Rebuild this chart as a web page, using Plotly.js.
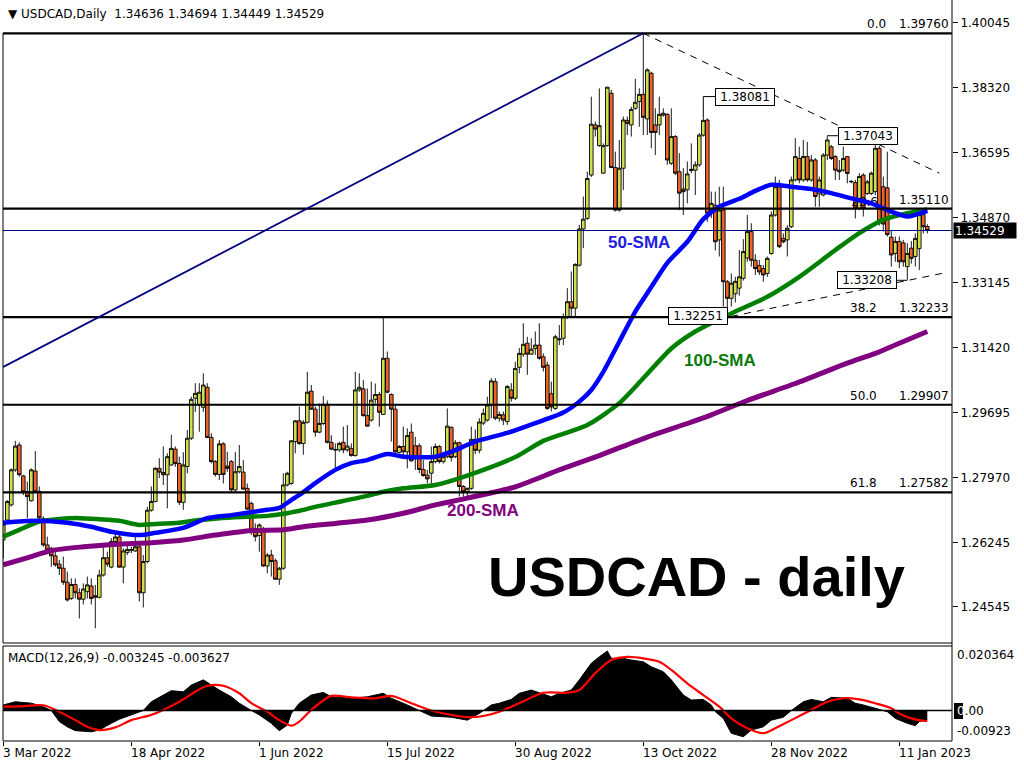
<!DOCTYPE html>
<html><head><meta charset="utf-8">
<script src="https://cdn.plot.ly/plotly-3.0.1.min.js"></script>
<style>html,body{margin:0;padding:0;background:#fff;}#chart{width:1024px;height:768px;}</style>
</head><body><div id="chart"></div>
<script>
// ---------------- DATA ----------------
const tickLabels = ['3 Mar 2022','18 Apr 2022','1 Jun 2022','15 Jul 2022','30 Aug 2022','13 Oct 2022','28 Nov 2022','11 Jan 2023'];
const barsPerTick = 32;
const priceTicks = [1.40045,1.38320,1.36595,1.34870,1.33145,1.31420,1.29695,1.27970,1.26245,1.24545];
const fibRatios = ['0.0','23.6','38.2','50.0','61.8'];
const fibPrices = [1.39760,1.35110,1.32233,1.29907,1.27582];
const lastOHLC = [1.34636,1.34694,1.34449,1.34529];
const macdTitleValues = ['-0.003245','-0.003627'];
const macdTickLabels = ['0.020364','0.00','-0.00923'];

const opens = [1.2632,1.2685,1.2725,1.2818,1.2884,1.2802,1.2760,1.2736,1.2815,1.2761,
1.2689,1.2619,1.2610,1.2590,1.2568,1.2557,1.2520,1.2477,1.2514,1.2492,
1.2475,1.2495,1.2510,1.2480,1.2480,1.2539,1.2585,1.2560,1.2628,1.2640,
1.2560,1.2599,1.2605,1.2603,1.2614,1.2492,1.2575,1.2711,1.2734,1.2822,
1.2811,1.2805,1.2831,1.2873,1.2835,1.2732,1.2827,1.2902,1.3008,1.2990,
1.2984,1.3037,1.2904,1.2840,1.2806,1.2887,1.2828,1.2840,1.2765,1.2813,
1.2812,1.2769,1.2729,1.2652,1.2644,1.2659,1.2563,1.2592,1.2577,1.2528,
1.2557,1.2778,1.2782,1.2893,1.2948,1.2888,1.2944,1.3027,1.2979,1.2918,
1.2941,1.2992,1.2891,1.2872,1.2871,1.2891,1.2871,1.2875,1.2856,1.3030,
1.3033,1.2962,1.2950,1.3005,1.3018,1.2965,1.3114,1.3018,1.2979,1.2864,
1.2880,1.2866,1.2918,1.2882,1.2882,1.2819,1.2804,1.2809,1.2840,1.2880,
1.2840,1.2853,1.2931,1.2853,1.2890,1.2774,1.2760,1.2769,1.2899,1.2870,
1.2942,1.2950,1.2990,1.3052,1.2955,1.2964,1.2946,1.3030,1.3008,1.3090,
1.3125,1.3154,1.3125,1.3140,1.3149,1.3118,1.3096,1.3020,1.2981,1.3163,
1.3167,1.3224,1.3264,1.3247,1.3361,1.3457,1.3485,1.3600,1.3733,1.3678,
1.3605,1.3678,1.3817,1.3620,1.3507,1.3618,1.3745,1.3733,1.3777,1.3795,
1.3814,1.3749,1.3870,1.3733,1.3733,1.3759,1.3761,1.3631,1.3702,1.3609,
1.3563,1.3561,1.3612,1.3613,1.3627,1.3706,1.3746,1.3505,1.3520,1.3428,
1.3507,1.3317,1.3273,1.3285,1.3300,1.3326,1.3380,1.3450,1.3374,1.3360,
1.3352,1.3339,1.3392,1.3494,1.3569,1.3432,1.3428,1.3463,1.3587,1.3644,
1.3587,1.3649,1.3587,1.3640,1.3550,1.3547,1.3653,1.3675,1.3649,1.3613,
1.3613,1.3649,1.3582,1.3580,1.3512,1.3600,1.3551,1.3551,1.3556,1.3671,
1.3569,1.3566,1.3435,1.3392,1.3424,1.3420,1.3357,1.3406,1.3384,1.3405,
1.3495,1.34636];
const highs = [1.2685,1.2738,1.2822,1.2895,1.2891,1.2805,1.2787,1.2822,1.2868,1.2774,
1.2695,1.2641,1.2614,1.2601,1.2579,1.2588,1.2548,1.2530,1.2530,1.2504,
1.2517,1.2535,1.2530,1.2513,1.2553,1.2619,1.2601,1.2637,1.2650,1.2650,
1.2610,1.2619,1.2614,1.2641,1.2619,1.2592,1.2720,1.2774,1.2826,1.2849,
1.2880,1.2862,1.2911,1.2880,1.2853,1.2865,1.2924,1.3012,1.3048,1.3048,
1.3074,1.3048,1.2915,1.2844,1.2897,1.2891,1.2866,1.2844,1.2865,1.2884,
1.2844,1.2782,1.2734,1.2676,1.2676,1.2667,1.2597,1.2606,1.2583,1.2561,
1.2809,1.2813,1.2897,1.2950,1.2986,1.2950,1.3078,1.3043,1.2986,1.2994,
1.3014,1.3002,1.2910,1.2888,1.2893,1.2933,1.2937,1.2888,1.3078,1.3074,
1.3056,1.3034,1.3052,1.3047,1.3025,1.3224,1.3132,1.3021,1.2990,1.2884,
1.2933,1.2928,1.2941,1.2906,1.2888,1.2844,1.2818,1.2880,1.2888,1.2884,
1.2866,1.2981,1.2933,1.2897,1.2893,1.2778,1.2771,1.2933,1.2925,1.2955,
1.2981,1.3012,1.3061,1.3061,1.2973,1.2973,1.3043,1.3048,1.3105,1.3141,
1.3207,1.3171,1.3167,1.3185,1.3207,1.3127,1.3105,1.3052,1.3176,1.3202,
1.3233,1.3300,1.3344,1.3366,1.3468,1.3543,1.3609,1.3808,1.3742,1.3830,
1.3684,1.3834,1.3826,1.3662,1.3693,1.3755,1.3755,1.3781,1.3855,1.3830,
1.3976,1.3883,1.3874,1.3777,1.3808,1.3777,1.3764,1.3777,1.3706,1.3658,
1.3618,1.3636,1.3684,1.3636,1.3711,1.3752,1.3750,1.3556,1.3556,1.3569,
1.3569,1.3322,1.3339,1.3330,1.3401,1.3430,1.3494,1.3472,1.3390,1.3375,
1.3361,1.3384,1.3503,1.3596,1.3587,1.3445,1.3467,1.3596,1.3698,1.3675,
1.3693,1.3688,1.3653,1.3645,1.3596,1.3658,1.3702,1.3680,1.3653,1.3640,
1.3675,1.3651,1.3587,1.3587,1.3605,1.3605,1.3587,1.3609,1.3688,1.3677,
1.3596,1.3662,1.3452,1.3437,1.3437,1.3428,1.3419,1.3425,1.3445,1.3503,
1.3512,1.34694];
const lows = [1.2583,1.2676,1.2721,1.2813,1.2800,1.2751,1.2690,1.2734,1.2756,1.2685,
1.2614,1.2601,1.2561,1.2561,1.2539,1.2513,1.2469,1.2473,1.2477,1.2424,
1.2461,1.2477,1.2461,1.2398,1.2477,1.2535,1.2561,1.2557,1.2614,1.2559,
1.2517,1.2592,1.2597,1.2601,1.2469,1.2453,1.2570,1.2707,1.2732,1.2796,
1.2778,1.2716,1.2829,1.2826,1.2725,1.2712,1.2809,1.2897,1.2972,1.2919,
1.2972,1.2902,1.2835,1.2800,1.2791,1.2782,1.2813,1.2760,1.2760,1.2809,
1.2765,1.2712,1.2645,1.2628,1.2601,1.2561,1.2544,1.2535,1.2526,1.2513,
1.2553,1.2774,1.2778,1.2862,1.2884,1.2858,1.2941,1.2977,1.2906,1.2915,
1.2937,1.2888,1.2871,1.2818,1.2866,1.2862,1.2866,1.2853,1.2853,1.3025,
1.2959,1.2933,1.2946,1.2994,1.2933,1.2964,1.3021,1.2893,1.2862,1.2862,
1.2849,1.2822,1.2840,1.2818,1.2809,1.2800,1.2782,1.2778,1.2835,1.2835,
1.2835,1.2849,1.2840,1.2849,1.2747,1.2747,1.2743,1.2765,1.2860,1.2862,
1.2937,1.2946,1.2955,1.2950,1.2946,1.2937,1.2937,1.2999,1.3003,1.3074,
1.3118,1.3070,1.3123,1.3123,1.3110,1.3079,1.2977,1.2973,1.2977,1.3149,
1.3149,1.3218,1.3224,1.3224,1.3357,1.3406,1.3481,1.3595,1.3702,1.3675,
1.3603,1.3675,1.3618,1.3503,1.3503,1.3560,1.3706,1.3702,1.3773,1.3728,
1.3706,1.3706,1.3671,1.3653,1.3706,1.3755,1.3627,1.3627,1.3600,1.3507,
1.3494,1.3525,1.3605,1.3547,1.3622,1.3702,1.3476,1.3486,1.3400,1.3384,
1.3251,1.3225,1.3251,1.3262,1.3280,1.3320,1.3370,1.3357,1.3335,1.3335,
1.3317,1.3330,1.3388,1.3490,1.3406,1.3419,1.3384,1.3459,1.3583,1.3578,
1.3582,1.3582,1.3582,1.3516,1.3516,1.3543,1.3640,1.3640,1.3587,1.3587,
1.3609,1.3578,1.3578,1.3485,1.3507,1.3490,1.3547,1.3547,1.3547,1.3466,
1.3450,1.3437,1.3357,1.3370,1.3353,1.3357,1.3322,1.3365,1.3357,1.3348,
1.3445,1.34449];
const closes = [1.2674,1.2734,1.2818,1.2881,1.2805,1.2760,1.2747,1.2818,1.2760,1.2691,
1.2619,1.2606,1.2590,1.2566,1.2557,1.2520,1.2473,1.2514,1.2492,1.2475,
1.2502,1.2513,1.2477,1.2484,1.2539,1.2585,1.2568,1.2628,1.2640,1.2560,
1.2603,1.2607,1.2606,1.2614,1.2492,1.2575,1.2711,1.2734,1.2822,1.2812,
1.2805,1.2853,1.2875,1.2835,1.2732,1.2831,1.2902,1.3005,1.3021,1.3024,
1.3043,1.2904,1.2840,1.2806,1.2887,1.2806,1.2822,1.2765,1.2813,1.2827,
1.2767,1.2714,1.2652,1.2641,1.2672,1.2563,1.2592,1.2575,1.2528,1.2557,
1.2778,1.2809,1.2895,1.2948,1.2888,1.2944,1.3024,1.2979,1.2918,1.2941,
1.2992,1.2891,1.2873,1.2871,1.2888,1.2871,1.2881,1.2856,1.3030,1.3037,
1.2962,1.2934,1.3003,1.3018,1.2971,1.3114,1.3024,1.2979,1.2866,1.2880,
1.2866,1.2909,1.2842,1.2849,1.2819,1.2803,1.2794,1.2840,1.2880,1.2840,
1.2853,1.2934,1.2851,1.2890,1.2774,1.2760,1.2769,1.2899,1.2870,1.2945,
1.2968,1.2990,1.3054,1.2955,1.2965,1.2950,1.3039,1.3008,1.3087,1.3127,
1.3151,1.3125,1.3138,1.3149,1.3114,1.3090,1.2981,1.2985,1.3171,1.3165,
1.3224,1.3264,1.3247,1.3363,1.3457,1.3483,1.3591,1.3735,1.3722,1.3731,
1.3678,1.3833,1.3620,1.3507,1.3618,1.3746,1.3737,1.3774,1.3793,1.3814,
1.3753,1.3879,1.3713,1.3713,1.3761,1.3764,1.3640,1.3702,1.3605,1.3552,
1.3556,1.3603,1.3615,1.3627,1.3706,1.3745,1.3499,1.3525,1.3423,1.3507,
1.3317,1.3273,1.3313,1.3318,1.3330,1.3397,1.3450,1.3374,1.3352,1.3343,
1.3335,1.3379,1.3494,1.3569,1.3410,1.3423,1.3459,1.3587,1.3649,1.3587,
1.3649,1.3587,1.3640,1.3543,1.3587,1.3653,1.3693,1.3644,1.3613,1.3609,
1.3644,1.3604,1.3583,1.3512,1.3596,1.3512,1.3582,1.3605,1.3671,1.3478,
1.3470,1.3442,1.3388,1.3424,1.3370,1.3370,1.3392,1.3379,1.3432,1.3495,
1.3463,1.34529];

const sma50Bars = [0,8,16,22,27,34,38,45,51,57,66,69,72,75,78,83,87,91,96,100,108,112,118,126,133,140,144,147,150,154,158,162,166,171,175,179,184,188,192,197,202,207,212,217,222,226,231];
const sma50 = [1.2678,1.2683,1.2678,1.2667,1.2654,1.2645,1.2651,1.2664,1.2690,1.2698,1.2712,1.2717,1.2738,1.2759,1.2783,1.2818,1.2836,1.2844,1.2860,1.2853,1.2853,1.2866,1.2893,1.2916,1.2942,1.2970,1.2999,1.3030,1.3078,1.3158,1.3238,1.3303,1.3367,1.3423,1.3483,1.3516,1.3537,1.3558,1.3574,1.3569,1.3563,1.3552,1.3538,1.3525,1.3503,1.3490,1.3505];
const sma100Bars = [0,4,9,14,19,24,29,34,37,44,49,57,66,71,75,78,83,91,95,100,108,116,128,135,146,154,160,167,173,182,191,199,208,214,220,226,231];
const sma100 = [1.2641,1.2659,1.2681,1.2688,1.2690,1.2687,1.2683,1.2672,1.2674,1.2678,1.2685,1.2692,1.2696,1.2703,1.2712,1.2720,1.2731,1.2749,1.2760,1.2769,1.2778,1.2803,1.2852,1.2895,1.2937,1.2995,1.3061,1.3140,1.3185,1.3233,1.3277,1.3330,1.3401,1.3446,1.3481,1.3499,1.3509];
const sma200Bars = [0,7,12,20,28,37,45,53,62,70,75,83,91,100,108,116,128,139,149,161,171,177,186,199,211,218,224,231];
const sma200 = [1.2566,1.2588,1.2604,1.2614,1.2621,1.2625,1.2632,1.2645,1.2657,1.2659,1.2667,1.2676,1.2685,1.2703,1.2725,1.2743,1.2773,1.2818,1.2856,1.2905,1.2941,1.2964,1.3002,1.3051,1.3101,1.3127,1.3154,1.3185];

const macdBars = [0,3,7,10,12,14,16,18,22,24,27,29,32,35,37,40,42,45,47,50,52,54,57,59,62,64,67,69,71,72,74,77,80,82,87,91,95,97,101,104,107,112,116,119,122,124,127,129,132,134,137,139,142,144,147,149,151,152,155,157,160,162,165,167,170,172,175,177,178,180,182,185,187,190,192,195,197,200,202,205,207,211,213,215,218,221,223,226,228,229,231];
const macdMain = [0.0019,0.0030,0.0025,0.0013,0.0000,-0.0038,-0.0056,-0.0069,-0.0073,-0.0067,
-0.0044,-0.0030,-0.0015,0.0000,0.0030,0.0053,0.0068,0.0064,0.0087,0.0105,
0.0087,0.0070,0.0047,0.0025,0.0000,-0.0015,-0.0044,-0.0069,-0.0050,-0.0010,
0.0025,0.0053,0.0062,0.0047,0.0042,0.0047,0.0059,0.0042,0.0019,0.0000,
-0.0019,-0.0023,-0.0033,-0.0010,0.0019,0.0025,0.0038,0.0059,0.0070,0.0061,
0.0047,0.0059,0.0070,0.0105,0.0162,0.0184,0.0204,0.0179,0.0179,0.0173,
0.0167,0.0150,0.0133,0.0105,0.0053,0.0036,0.0038,0.0019,-0.0004,-0.0027,
-0.0078,-0.0090,-0.0067,-0.0056,-0.0033,-0.0023,0.0000,0.0030,0.0038,0.0030,
0.0045,0.0042,0.0025,0.0019,0.0008,-0.0004,-0.0027,-0.0044,-0.0052,-0.0038,
-0.0032];
const signalBars = [0,4,10,14,18,21,24,28,32,37,40,44,48,51,55,59,62,66,69,72,74,77,82,87,93,97,102,107,112,116,120,124,129,135,141,144,148,152,156,160,164,167,171,175,179,182,186,190,193,197,202,206,210,214,218,222,224,227,229,231];
const signal = [0.0013,0.0014,0.0018,-0.0004,-0.0033,-0.0056,-0.0067,-0.0058,-0.0033,-0.0015,
0.0002,0.0030,0.0064,0.0085,0.0085,0.0059,0.0025,-0.0004,-0.0033,-0.0052,
-0.0038,0.0002,0.0050,0.0045,0.0042,0.0050,0.0025,0.0000,-0.0015,-0.0023,
-0.0019,-0.0004,0.0025,0.0061,0.0061,0.0070,0.0128,0.0173,0.0184,0.0179,
0.0167,0.0139,0.0093,0.0053,0.0013,-0.0027,-0.0061,-0.0078,-0.0061,-0.0033,
0.0002,0.0030,0.0042,0.0038,0.0025,0.0008,-0.0010,-0.0027,-0.0033,-0.0036];

// drawn objects (bar index, price)
const trendBars = [0,160], trendPrices = [1.3091,1.3976];
const resistBars = [160,234], resistPrices = [1.3976,1.3605];
const supportBars = [182,236], supportPrices = [1.3225,1.3342];
const priceLabels = ['1.38081','1.37043','1.33208','1.32251'];
const priceLabelBars = [175,206,226,181];
const priceLabelTouch = [1.3752,1.3702,1.3322,1.3225];

// ---------------- GEOMETRY ----------------
const PL=3, PR=952, PB=741;
const px2x = px => (px-PL)/(PR-PL);
const px2y = py => (PB-py)/PB;
const px2bar = px => (px-3.3)/4;
const xRange = [px2bar(PL), px2bar(PR)];
const FONT = 'DejaVu Sans';

const bars = opens.map((_,i)=>i);
const traces = [
  {type:'candlestick', x:bars, open:opens, high:highs, low:lows, close:closes, xaxis:'x', yaxis:'y',
   increasing:{line:{color:'#000',width:0.9}, fillcolor:'#d2dc50'},
   decreasing:{line:{color:'#000',width:0.9}, fillcolor:'#e8642a'},
   whiskerwidth:0, hoverinfo:'skip', showlegend:false},
  {type:'scatter', mode:'text', x:[px2bar(878)], y:[fibPrices[1]], text:[fibRatios[1]], textposition:'top left',
   textfont:{family:FONT,size:12,color:'#000'}, xaxis:'x', yaxis:'y', hoverinfo:'skip'},
  {type:'scatter', mode:'lines', x:sma200Bars, y:sma200, line:{color:'#800080',width:5,shape:'spline',smoothing:0.7}, xaxis:'x', yaxis:'y', hoverinfo:'skip'},
  {type:'scatter', mode:'lines', x:sma100Bars, y:sma100, line:{color:'#008000',width:4.5,shape:'spline',smoothing:0.7}, xaxis:'x', yaxis:'y', hoverinfo:'skip'},
  {type:'scatter', mode:'lines', x:sma50Bars, y:sma50, line:{color:'#0000ff',width:4.5,shape:'spline',smoothing:0.7}, xaxis:'x', yaxis:'y', hoverinfo:'skip'},
  {type:'scatter', mode:'lines', x:macdBars, y:macdMain, xaxis:'x2', yaxis:'y2', fill:'tozeroy', fillcolor:'#000', line:{color:'#000',width:1}, hoverinfo:'skip'},
  {type:'scatter', mode:'lines', x:signalBars, y:signal, xaxis:'x2', yaxis:'y2', line:{color:'#ff0000',width:2.2,shape:'spline',smoothing:0.8}, hoverinfo:'skip'}
];

const shapes = [];
const ln = (o) => shapes.push(Object.assign({type:'line', layer:'above'}, o));
fibPrices.forEach(p => ln({xref:'paper', x0:0, x1:1, yref:'y', y0:p, y1:p, line:{color:'#000',width:2.2}}));
ln({xref:'paper', x0:0, x1:1, yref:'y', y0:lastOHLC[3], y1:lastOHLC[3], line:{color:'#000080',width:1}});
ln({xref:'x', yref:'y', x0:trendBars[0], x1:trendBars[1], y0:trendPrices[0], y1:trendPrices[1], line:{color:'#000080',width:1.8}});
ln({xref:'x', yref:'y', x0:resistBars[0], x1:resistBars[1], y0:resistPrices[0], y1:resistPrices[1], line:{color:'#000',width:1,dash:'7px,6px'}});
ln({xref:'x', yref:'y', x0:supportBars[0], x1:supportBars[1], y0:supportPrices[0], y1:supportPrices[1], line:{color:'#000',width:1,dash:'7px,6px'}});
const lblVal = priceLabels.map(Number);
ln({xref:'x', yref:'y', x0:priceLabelBars[0], x1:px2bar(715), y0:lblVal[0], y1:lblVal[0], line:{color:'#000',width:1}});
ln({xref:'x', yref:'y', x0:priceLabelBars[0], x1:priceLabelBars[0], y0:lblVal[0], y1:priceLabelTouch[0], line:{color:'#000',width:1}});
ln({xref:'x', yref:'y', x0:priceLabelBars[1], x1:px2bar(838), y0:lblVal[1], y1:lblVal[1], line:{color:'#000',width:1}});
ln({xref:'x', yref:'y', x0:priceLabelBars[1], x1:priceLabelBars[1], y0:lblVal[1], y1:priceLabelTouch[1], line:{color:'#000',width:1}});
ln({xref:'x', yref:'y', x0:px2bar(897), x1:priceLabelBars[2], y0:lblVal[2], y1:lblVal[2], line:{color:'#000',width:1}});
ln({xref:'paper', x0:0, x1:1, yref:'y2', y0:0, y1:0, line:{color:'#000',width:1.5}});
const fr = {color:'#000', width:1};
ln({xref:'paper', yref:'paper', x0:0, x1:0, y0:px2y(33), y1:px2y(643), line:fr});
ln({xref:'paper', yref:'paper', x0:0, x1:1, y0:px2y(643), y1:px2y(643), line:fr});
ln({xref:'paper', yref:'paper', x0:0, x1:1, y0:px2y(646), y1:px2y(646), line:fr});
ln({xref:'paper', yref:'paper', x0:0, x1:0, y0:px2y(646), y1:0, line:fr});
ln({xref:'paper', yref:'paper', x0:0, x1:1, y0:0, y1:0, line:fr});
ln({xref:'paper', yref:'paper', x0:1, x1:1, y0:0, y1:1, line:fr});
shapes.push({type:'rect', layer:'above', xref:'paper', yref:'paper', x0:px2x(954), x1:px2x(963), y0:px2y(719), y1:px2y(703), fillcolor:'#000', line:{width:0}});

const ann = [];
const T = (o) => ann.push(Object.assign({showarrow:false, font:{family:FONT,size:12,color:'#000'}, borderpad:1}, o));
T({xref:'paper', yref:'paper', x:px2x(6), y:px2y(14), xanchor:'left', yanchor:'middle',
   text:'\u25BC USDCAD,Daily\u00a0\u00a0' + lastOHLC.map(v=>v.toFixed(5)).join(' ')});
T({xref:'paper', yref:'paper', x:px2x(6), y:px2y(657.5), xanchor:'left', yanchor:'middle',
   text:'MACD(12,26,9) ' + macdTitleValues.join(' ')});
T({xref:'x', yref:'y', x:px2bar(888), y:fibPrices[0], xanchor:'right', yanchor:'bottom', text:fibRatios[0]});
[2,3,4].forEach(i => T({xref:'x', yref:'y', x:px2bar(879), y:fibPrices[i], xanchor:'right', yanchor:'bottom', text:fibRatios[i]}));
fibPrices.forEach(p => T({xref:'paper', yref:'y', x:1, xshift:-1, y:p, xanchor:'right', yanchor:'bottom', text:p.toFixed(5)}));
const boxCenters = [745, 867.5, 867, 697.5];
priceLabels.forEach((t,i) => T({xref:'x', yref:'y', x:px2bar(boxCenters[i]), y:lblVal[i], xanchor:'center', yanchor:'middle',
   text:t, bgcolor:'#fff', bordercolor:'#000', borderwidth:1, width:56, height:14}));
T({xref:'paper', yref:'y', x:1, xshift:1, y:lastOHLC[3], xanchor:'left', yanchor:'middle', text:lastOHLC[3].toFixed(5),
   bgcolor:'#000', font:{family:FONT,size:12,color:'#fff'}, width:60, height:13, align:'left'});
const B = 'Liberation Sans';
T({xref:'x', yref:'y', x:px2bar(638.5), y:1.34224, text:'<b>50-SMA</b>', font:{family:B,size:17,color:'#1e1ee0'}});
T({xref:'x', yref:'y', x:px2bar(719.5), y:1.31094, text:'<b>100-SMA</b>', font:{family:B,size:17,color:'#0a7a0a'}});
T({xref:'x', yref:'y', x:px2bar(483), y:1.27115, text:'<b>200-SMA</b>', font:{family:B,size:17,color:'#800080'}});
T({xref:'x', yref:'y', x:px2bar(696.5), y:1.25365, yanchor:'middle', text:'<b>USDCAD - daily</b>', font:{family:B,size:56,color:'#000'}});
T({xref:'paper', yref:'paper', x:1, xshift:3, y:px2y(655), xanchor:'left', yanchor:'middle', text:macdTickLabels[0]});
T({xref:'paper', yref:'paper', x:1, xshift:3, y:px2y(711), xanchor:'left', yanchor:'middle', text:'<span style="color:#fff">0</span>' + macdTickLabels[1].slice(1)});
T({xref:'paper', yref:'paper', x:1, xshift:3, y:px2y(731), xanchor:'left', yanchor:'middle', text:macdTickLabels[2]});
tickLabels.forEach((t,i) => T({xref:'x2', yref:'paper', x:i*barsPerTick, y:0, yshift:-3, xanchor:'left', yanchor:'top', xshift:-2, text:t}));

const layout = {
  width:1024, height:768, margin:{l:PL, r:1024-PR, t:0, b:768-PB, pad:0},
  paper_bgcolor:'#fff', plot_bgcolor:'#fff', showlegend:false, boxgap:0.1, boxgroupgap:0,
  font:{family:FONT, size:12, color:'#000'},
  xaxis:{domain:[0,1], range:xRange, anchor:'y', showgrid:false, zeroline:false, showticklabels:false, ticks:'', rangeslider:{visible:false}, showline:false, fixedrange:true},
  yaxis:{domain:[(PB-643)/PB,1], range:[1.23588,1.40643], side:'right', anchor:'x', tickvals:priceTicks, ticktext:priceTicks.map(v=>v.toFixed(5)),
         ticks:'outside', ticklen:5, tickwidth:1, tickcolor:'#000', showgrid:false, zeroline:false, showline:false,
         tickfont:{family:FONT,size:12,color:'#000'}},
  xaxis2:{domain:[0,1], range:xRange, anchor:'y2', tickvals:tickLabels.map((_,i)=>i*barsPerTick), ticks:'outside', ticklen:4, tickwidth:1, tickcolor:'#000',
          showticklabels:false, showgrid:false, zeroline:false, showline:false},
  yaxis2:{domain:[0,(PB-646)/PB], range:[-0.010456,0.022112], side:'right', anchor:'x2', showticklabels:false, ticks:'', showgrid:false, zeroline:false, showline:false},
  shapes:shapes, annotations:ann
};
Plotly.newPlot('chart', traces, layout, {staticPlot:true, displayModeBar:false});
</script>
</body></html>
